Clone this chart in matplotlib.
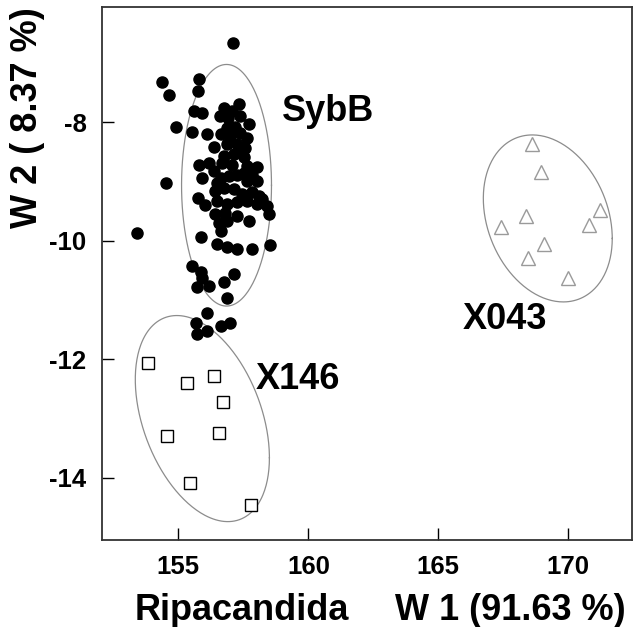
import numpy as np
import matplotlib
matplotlib.use("Agg")
import matplotlib.pyplot as plt

plt.rcParams['font.family'] = ['Liberation Sans', 'DejaVu Sans']
plt.rcParams['font.weight'] = 'bold'
plt.rcParams['axes.unicode_minus'] = False

# group SybB (filled dots)
sybb_x = [157.10, 154.37, 155.78, 154.63, 155.74, 154.92, 154.53, 153.41, 155.59, 155.91,
          155.53, 156.08, 156.36,
          156.77, 157.33, 157.06, 156.59, 156.92, 157.38, 157.72, 156.85, 157.19, 156.62,
          156.97, 157.38, 157.64,
          156.87, 157.26, 157.58, 156.74, 157.13, 157.51, 157.06, 156.68, 157.64, 158.03,
          156.17, 155.78, 155.91, 156.36, 156.49, 156.94, 157.26, 157.64, 157.51, 156.62,
          157.45, 157.83, 158.03,
          155.74, 156.04, 156.42, 156.74, 157.13, 157.45, 157.83, 158.22, 158.41, 156.49,
          156.87, 157.26, 157.64, 158.03, 156.42, 156.81, 157.26, 157.71, 158.47, 156.87,
          156.55, 156.62, 158.09,
          155.85, 156.49, 156.87, 157.26, 157.83, 158.54,
          155.53, 155.85, 155.91, 155.72, 156.17, 156.74, 157.13, 156.87, 156.10, 155.69,
          155.72, 156.10, 156.62, 157.00]
sybb_y = [-6.66, -7.31, -7.26, -7.54, -7.46, -8.07, -9.03, -9.87, -7.81, -7.84,
          -8.16, -8.19, -8.41,
          -7.75, -7.68, -7.81, -7.89, -7.93, -7.89, -8.03, -8.10, -8.08, -8.20,
          -8.23, -8.17, -8.26,
          -8.37, -8.37, -8.43, -8.57, -8.54, -8.59, -8.71, -8.68, -8.73, -8.76,
          -8.68, -8.72, -8.93, -8.82, -9.02, -8.90, -8.88, -8.99, -8.85, -8.93,
          -8.51, -8.88, -8.99,
          -9.27, -9.39, -9.16, -9.10, -9.13, -9.21, -9.18, -9.30, -9.41, -9.32,
          -9.38, -9.35, -9.32, -9.38, -9.55, -9.52, -9.58, -9.66, -9.55, -9.66,
          -9.69, -9.83, -9.24,
          -9.94, -10.06, -10.11, -10.14, -10.14, -10.07,
          -10.43, -10.53, -10.62, -10.77, -10.76, -10.69, -10.56, -10.97, -11.22, -11.39,
          -11.57, -11.52, -11.43, -11.38]

# group X146 (open squares)
x146_x = [153.83, 155.33, 156.35, 156.70, 154.55, 156.55, 155.45, 157.78]
x146_y = [-12.06, -12.40, -12.28, -12.72, -13.29, -13.24, -14.08, -14.46]

# group X043 (open triangles)
x043_x = [168.60, 168.95, 171.20, 168.38, 170.78, 167.42, 169.08, 168.43, 169.99]
x043_y = [-8.36, -8.84, -9.47, -9.58, -9.73, -9.76, -10.06, -10.28, -10.63]

# ellipses: centre, half-extent in x, half-extent in y, correlation
ell_names = ['SybB', 'X146', 'X043']
ell_cx = [156.85, 155.92, 169.21]
ell_cy = [-9.06, -13.00, -9.62]
ell_sx = [1.73, 2.58, 2.48]
ell_sy = [2.04, 1.74, 1.41]
ell_r = [0.0, -0.38, -0.24]

label_x = [159.0, 157.96, 165.92]
label_y = [-7.97, -12.50, -11.48]

fig = plt.figure(figsize=(6.4, 6.27), dpi=100)
ax = fig.add_axes([0.159, 0.1388, 0.8285, 0.85])

t = np.linspace(0, 2 * np.pi, 300)
for i in range(len(ell_names)):
    d = np.arccos(ell_r[i])
    ax.plot(ell_cx[i] + ell_sx[i] * np.cos(t), ell_cy[i] + ell_sy[i] * np.cos(t + d),
            color='#8c8c8c', linewidth=0.9, zorder=1)
    ax.text(label_x[i], label_y[i], ell_names[i], fontsize=26, fontweight='bold',
            ha='left', va='baseline')

ax.plot(sybb_x, sybb_y, 'o', color='black', markersize=8, linestyle='none', zorder=3)
ax.plot(x146_x, x146_y, 's', markerfacecolor='white', markeredgecolor='black',
        markeredgewidth=1.0, markersize=9, linestyle='none', zorder=3)
ax.plot(x043_x, x043_y, '^', markerfacecolor='white', markeredgecolor='#9a9a9a',
        markeredgewidth=1.0, markersize=10, linestyle='none', zorder=3)

ax.set_xlim(152.05, 172.45)
ax.set_ylim(-15.05, -6.05)
ax.set_xticks([155, 160, 165, 170])
ax.set_yticks([-8, -10, -12, -14])
ax.tick_params(direction='in', length=8.5, width=1, pad=11, labelsize=18.5)
for lab in ax.get_xticklabels() + ax.get_yticklabels():
    lab.set_fontweight('bold')
for sp in ax.spines.values():
    sp.set_linewidth(1.3)
    sp.set_color('#333333')

fig.text(135 / 640, 1 - 620.5 / 627, 'Ripacandida', fontsize=26, fontweight='bold',
         ha='left', va='baseline')
fig.text(626 / 640, 1 - 620.5 / 627, 'W 1 (91.63 %)', fontsize=26, fontweight='bold',
         ha='right', va='baseline')
fig.text(28 / 640, 1 - 118 / 627, 'W 2 ( 8.37 %)', fontsize=26, fontweight='bold',
         rotation=90, ha='center', va='center')

fig.savefig('out.png', dpi=100)
